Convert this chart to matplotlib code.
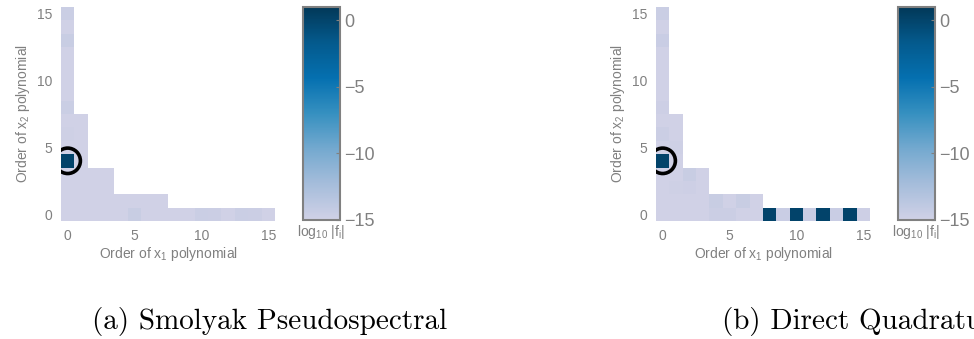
import numpy as np
import matplotlib
matplotlib.use("Agg")
import matplotlib.pyplot as plt
from matplotlib.colors import LinearSegmentedColormap
from matplotlib.patches import Circle

plt.rcParams['font.family'] = ['Liberation Sans', 'DejaVu Sans']
plt.rcParams['mathtext.fontset'] = 'custom'
plt.rcParams['mathtext.rm'] = 'Liberation Sans'
plt.rcParams['mathtext.it'] = 'Liberation Sans'
plt.rcParams['mathtext.default'] = 'regular'

GRAY = '#808080'

# number of x2 orders kept for each x1 order (Smolyak-type index set)
col_heights = [16, 8, 4, 4, 2, 2, 2, 2, 1, 1, 1, 1, 1, 1, 1, 1]
floor_val = -15.0

# (x1 order, x2 order, log10|f|) for coefficients above the floor
smolyak_coefs = [(0, 4, 0.0), (0, 15, -14.6), (0, 13, -14.5), (0, 8, -14.6),
                 (0, 6, -14.85), (5, 0, -14.5), (10, 0, -14.6), (11, 0, -14.65),
                 (13, 0, -14.6), (14, 0, -14.65)]
direct_coefs = [(0, 4, 0.0), (8, 0, 0.0), (10, 0, 0.0), (12, 0, 0.0), (14, 0, 0.0),
                (0, 15, -14.6), (0, 13, -14.55), (0, 8, -14.8), (0, 6, -14.65),
                (1, 5, -14.85), (2, 3, -14.5), (2, 2, -14.8), (4, 1, -14.5),
                (6, 1, -14.5), (4, 0, -14.65), (5, 0, -14.65), (9, 0, -14.55),
                (11, 0, -14.55), (13, 0, -14.55), (15, 0, -14.8), (1, 2, -14.85)]

captions = ['(a) Smolyak Pseudospectral', '(b) Direct Quadrature']

cmap = LinearSegmentedColormap.from_list(
    'pubu_cut', ['#d0d1e6', '#a6bddb', '#74a9cf', '#3690c0', '#0570b0', '#045a8d', '#023858'])
cmap.set_bad('white')


def build_grid(coefs):
    grid = np.full((16, 16), np.nan)
    for i, h in enumerate(col_heights):
        grid[:h, i] = floor_val
    for i, j, v in coefs:
        grid[j, i] = v
    return grid


fig = plt.figure(figsize=(9.74, 3.39), dpi=100)

panels = [(smolyak_coefs, 61, 303, 92), (direct_coefs, 656, 898, 722)]
for (coefs, ax_left, cb_left, cap_left), cap in zip(panels, captions):
    ax = fig.add_axes([ax_left / 974, 118 / 339, 214 / 974, 214 / 339])
    im = ax.imshow(build_grid(coefs), origin='lower', cmap=cmap, vmin=-15, vmax=1,
                   interpolation='nearest')
    ax.add_patch(Circle((0, 4), 0.95, fill=False, lw=2.6, ec='black'))
    ax.set_xlim(-0.5, 15.5)
    ax.set_ylim(-0.5, 15.5)
    ax.set_xticks([0, 5, 10, 15])
    ax.set_yticks([0, 5, 10, 15])
    ax.tick_params(length=0, labelsize=10, colors=GRAY, pad=6)
    for s in ax.spines.values():
        s.set_visible(False)
    ax.set_xlabel('Order of x$_1$ polynomial', fontsize=10, color=GRAY, labelpad=1)
    ax.set_ylabel('Order of x$_2$ polynomial', fontsize=10, color=GRAY, labelpad=4)

    cax = fig.add_axes([cb_left / 974, 119 / 339, 37 / 974, 213 / 339])
    cb = fig.colorbar(im, cax=cax, ticks=[0, -5, -10, -15])
    cb.outline.set_edgecolor(GRAY)
    cb.outline.set_linewidth(1.5)
    cax.tick_params(direction='in', length=3, width=0.8, colors=GRAY, labelsize=13, pad=3)
    cax.set_xlabel('log$_{10}$ |f$_i$|', fontsize=10, color=GRAY, labelpad=2)

    # caption (b) runs past the right edge, as in the original crop
    fig.text(cap_left / 974, 17 / 339, cap, family='cmr10', fontsize=21,
             ha='left', va='center')

fig.savefig('out.png', dpi=100)
